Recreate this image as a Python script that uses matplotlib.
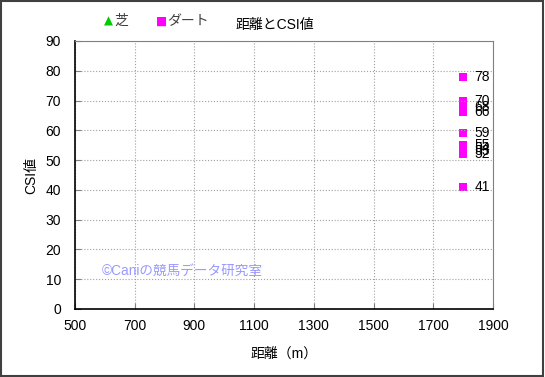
import matplotlib
matplotlib.use("Agg")
import matplotlib.pyplot as plt
from matplotlib.patches import Rectangle

plt.rcParams['font.family'] = ['Liberation Sans', 'Noto Sans CJK JP', 'DejaVu Sans']

turf_x = []
turf_y = []
dirt_x = [1800, 1800, 1800, 1800, 1800, 1800, 1800, 1800, 1800, 1800]
dirt_y = [78, 70, 68, 66, 59, 55, 54, 53, 52, 41]
xticks = [500, 700, 900, 1100, 1300, 1500, 1700, 1900]
yticks = list(range(0, 91, 10))

W, H = 545, 377
fig = plt.figure(figsize=(W/100, H/100), dpi=100)
fig.patches.append(Rectangle((0.002, 0.003), 0.995, 0.994, transform=fig.transFigure,
                             fill=False, edgecolor='#404040', linewidth=1.5))
L, R, T, B = 75, 493, 41, 309
ax = fig.add_axes([L/W, 1-B/H, (R-L)/W, (B-T)/H])

ax.scatter(turf_x, turf_y, marker='^', color='#00cc00', s=36)
ax.scatter(dirt_x, dirt_y, marker='s', color='#ff00ff', s=36, linewidths=0)
for x, y in zip(dirt_x, dirt_y):
    ax.annotate(str(y), (x, y), xytext=(8, 0), textcoords='offset points',
                va='center', ha='left', fontsize=10, color='black')

ax.set_xlim(500, 1900)
ax.set_ylim(0, 90)
ax.set_xticks(xticks)
ax.set_yticks(yticks)
ax.tick_params(direction='in', length=4, labelsize=10, color='#808080')
ax.tick_params(axis='y', pad=10)
ax.tick_params(axis='x', pad=7)
ax.grid(True, color='#a0a0a0', linestyle=':', linewidth=0.8)
for s in ax.spines.values():
    s.set_color('#808080')
ax.spines['left'].set_color('black')
ax.spines['bottom'].set_color('black')
ax.spines['left'].set_linewidth(1.2)
ax.spines['bottom'].set_linewidth(1.2)

ax.set_xlabel('距離（m）', fontsize=10, labelpad=10)
ax.set_ylabel('CSI値', fontsize=10, labelpad=5)

fig.text(275/W, 1-25/H, '距離とCSI値', ha='center', va='center', fontsize=10)
fig.text(108/W, 1-21/H, '▲', ha='center', va='center', fontsize=8.5, color='#00cc00',
         family=['DejaVu Sans'])
fig.text(114/W, 1-21/H, '芝', ha='left', va='center', fontsize=10, color='#404040')
fig.text(162/W, 1-21/H, '■', ha='center', va='center', fontsize=8.5, color='#ff00ff',
         family=['DejaVu Sans'])
fig.text(167/W, 1-21/H, 'ダート', ha='left', va='center', fontsize=10, color='#404040')
ax.text(590, 13, '©Caniの競馬データ研究室', fontsize=9.8, color='#9999ff', va='center')

fig.savefig('out.png', dpi=100)
